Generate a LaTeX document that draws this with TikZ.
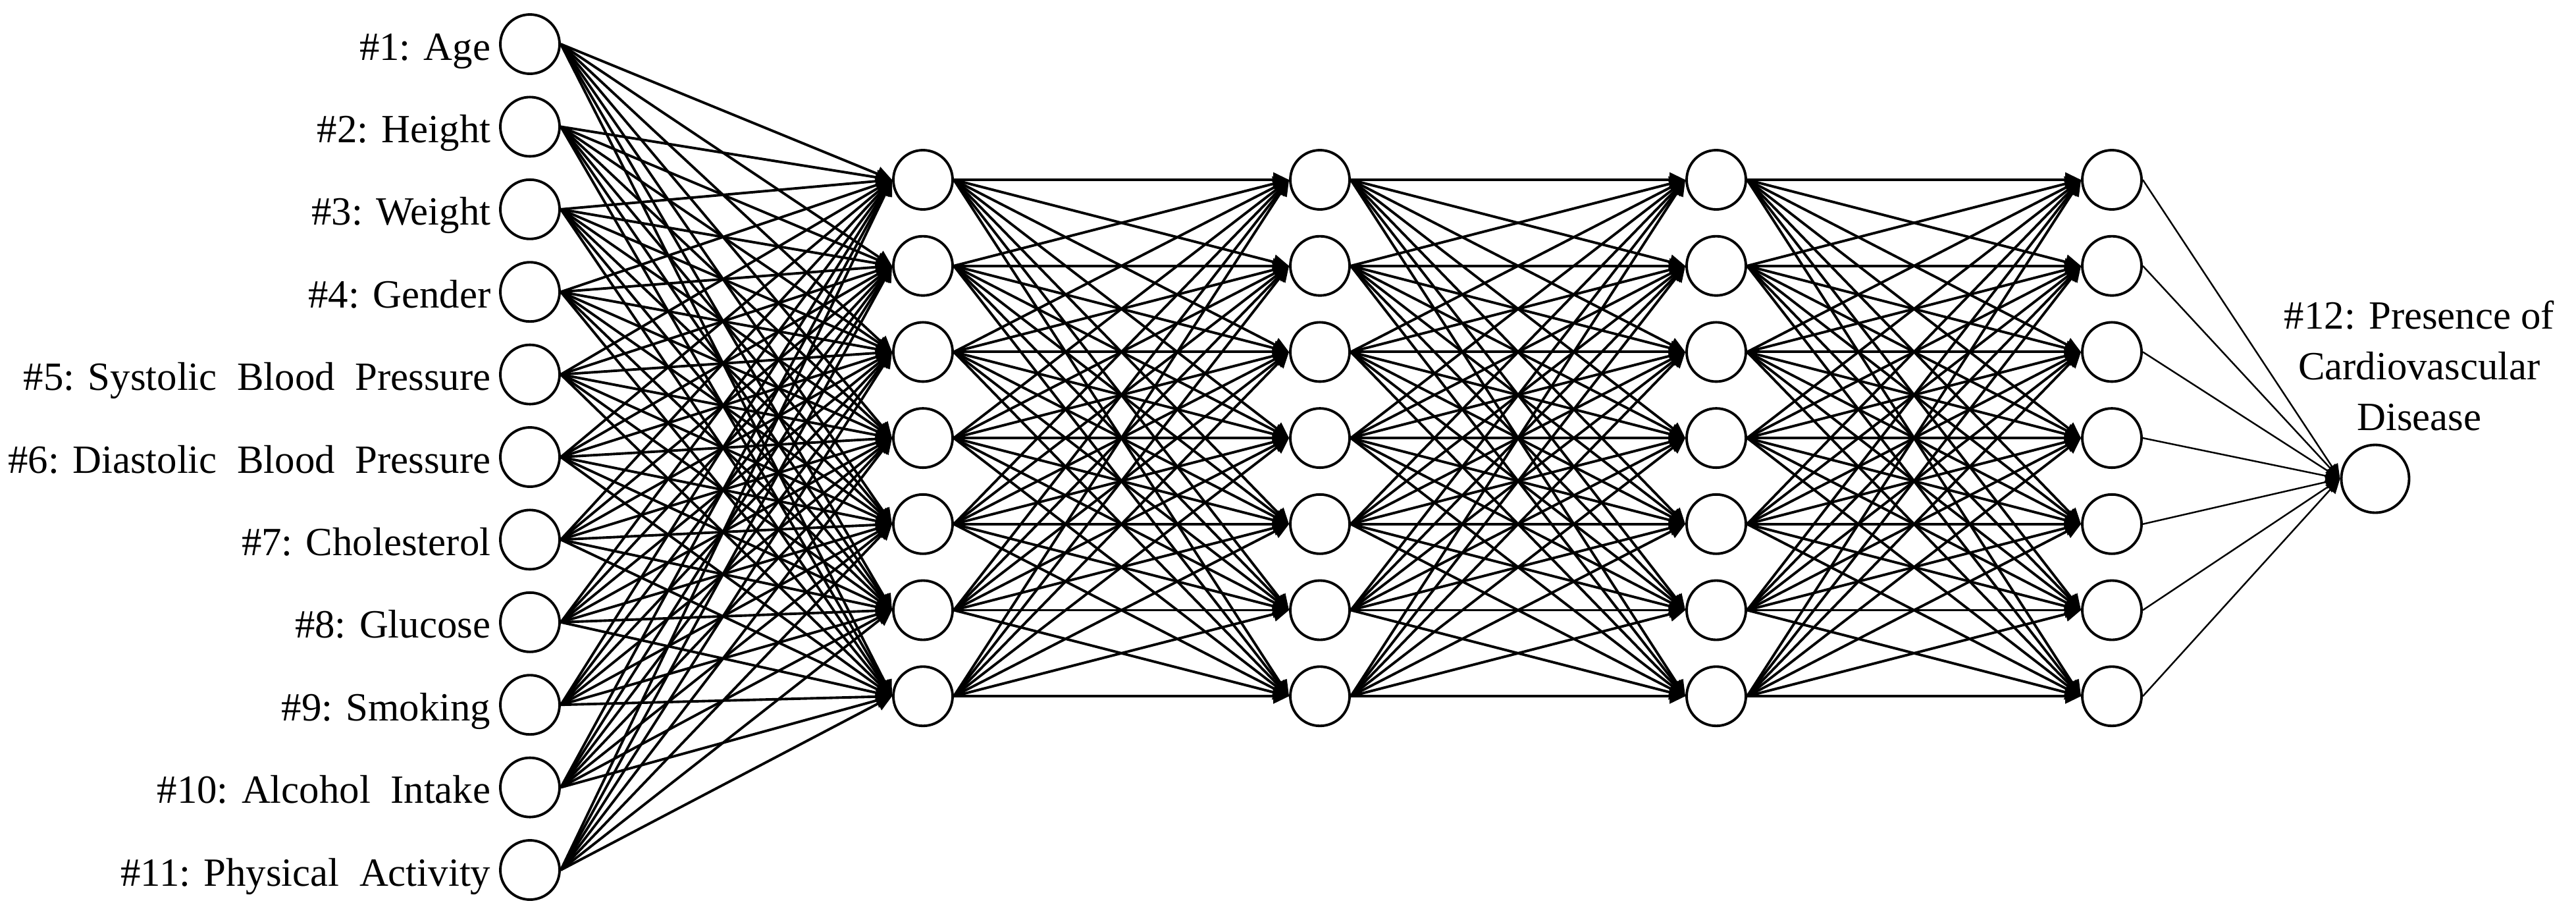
\documentclass[tikz,border=0pt]{standalone}
\usepackage{fontspec}
\setmainfont{Liberation Serif}
\usetikzlibrary{arrows.meta}

\tikzset{
	neuron/.style={draw=black, line width=1.1pt, circle, inner sep=0pt, minimum size=0.9cm},
	outneuron/.style={neuron, minimum size=1.03cm},
	feat/.style={anchor=base east, inner sep=0pt, font=\fontsize{17.3}{20}\selectfont},
	conn/.style={line width=1.1pt, -{Triangle[length=0.24cm,width=0.22cm]}},
	outconn/.style={line width=0.7pt, -{Triangle[length=0.22cm,width=0.2cm]}}
}

\begin{document}
\begin{tikzpicture}
	\useasboundingbox (0,0) rectangle (39.13,-13.99);
	% input features
	\foreach \i/\txt in {1/{\#1: Age}, 2/{\#2: Height}, 3/{\#3: Weight}, 4/{\#4: Gender},
		5/{\#5: Systolic\ \ Blood\ \ Pressure}, 6/{\#6: Diastolic\ \ Blood\ \ Pressure},
		7/{\#7: Cholesterol}, 8/{\#8: Glucose}, 9/{\#9: Smoking},
		10/{\#10: Alcohol\ \ Intake}, 11/{\#11: Physical\ \ Activity}} {
		\pgfmathsetmacro{\yy}{-0.67-1.254*(\i-1)}
		\node[neuron] (in\i) at (8.05,\yy) {};
		\node[feat] (lab\i) at (7.46,\yy-0.24) {\txt};
	}
	% hidden layers
	\foreach \l/\xx in {1/14.02, 2/20.05, 3/26.07, 4/32.08} {
		\foreach \j in {1,...,7} {
			\node[neuron] (h\l-\j) at (\xx,{-2.73-1.307*(\j-1)}) {};
		}
	}
	% output
	\node[outneuron] (out) at (36.08,-7.27) {};
	\node[font=\fontsize{17.3}{21.9}\selectfont, align=center, anchor=base, inner sep=0pt] (outlab) at (36.75,-6.53)
		{\#12: Presence of\\Cardiovascular\\Disease};

	\foreach \i in {1,...,11}
		\foreach \k in {1,...,7}
			\draw[conn] (in\i.east) -- (h1-\k.west);
	\foreach \l/\m in {1/2, 2/3, 3/4}
		\foreach \j in {1,...,7}
			\foreach \k in {1,...,7}
				\draw[conn] (h\l-\j.east) -- (h\m-\k.west);
	\foreach \j in {1,...,7}
		\draw[outconn] (h4-\j.east) -- (out.west);
\end{tikzpicture}
\end{document}
